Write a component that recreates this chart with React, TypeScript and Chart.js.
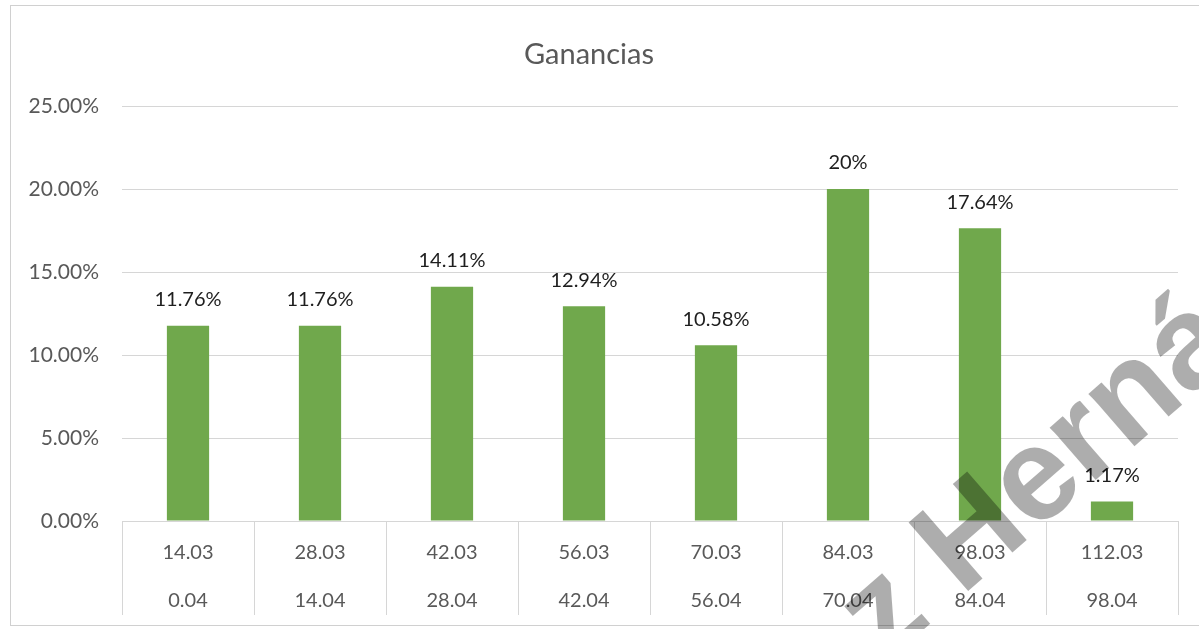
import React, { useEffect, useRef } from 'react';
import { Chart, registerables } from 'chart.js';

Chart.register(...registerables);

// ---- Data ----
const categoriesTop = ['14.03', '28.03', '42.03', '56.03', '70.03', '84.03', '98.03', '112.03'];
const categoriesBottom = ['0.04', '14.04', '28.04', '42.04', '56.04', '70.04', '84.04', '98.04'];
const gananciasValues = [11.76, 11.76, 14.11, 12.94, 10.58, 20, 17.64, 1.17];
const yMin = 0;
const yMax = 25;
const yStep = 5;
const chartTitle = 'Ganancias';
const watermarkText = 'z Hernán';

const FONT = 'Lato, "Open Sans", "DejaVu Sans", sans-serif';
const BAR_COLOR = '#70A84C';
const GRID_COLOR = '#D6D6D6';
const AXIS_TEXT = '#595959';

const formatLabel = (v: number) => `${v}%`;

const dataLabelPlugin = {
  id: 'dataLabels',
  afterDatasetsDraw(chart: any) {
    const ctx = chart.ctx;
    const meta = chart.getDatasetMeta(0);
    ctx.save();
    ctx.font = `20px ${FONT}`;
    ctx.fillStyle = '#1e1e1e';
    ctx.textAlign = 'center';
    ctx.textBaseline = 'middle';
    meta.data.forEach((el: any, i: number) => {
      ctx.fillText(formatLabel(gananciasValues[i]), el.x, el.y - 26);
    });
    ctx.restore();
  },
};

const decorPlugin = {
  id: 'decor',
  afterDraw(chart: any) {
    const ctx = chart.ctx;
    ctx.save();
    // outer chart border
    ctx.strokeStyle = '#D0D0D0';
    ctx.lineWidth = 1;
    ctx.strokeRect(10.5, 5.5, chart.width, 620);
    // scan watermark
    ctx.translate(884, 664);
    ctx.rotate((-41 * Math.PI) / 180);
    ctx.font = 'bold 132px "Liberation Sans", Arial, sans-serif';
    ctx.textBaseline = 'alphabetic';
    ctx.textAlign = 'left';
    ctx.fillStyle = 'rgba(0,0,0,0.32)';
    ctx.fillText(watermarkText, 0, 0);
    ctx.restore();
  },
};

export default function App() {
  const canvasRef = useRef<HTMLCanvasElement | null>(null);

  useEffect(() => {
    document.body.style.margin = '0';
    const canvas = canvasRef.current;
    if (!canvas) return;
    const labels = categoriesTop.map((t, i) => [t, categoriesBottom[i]]);
    const chart = new Chart(canvas, {
      type: 'bar',
      data: {
        labels,
        datasets: [
          {
            label: chartTitle,
            data: gananciasValues,
            backgroundColor: BAR_COLOR,
            borderWidth: 0,
            barPercentage: 0.32,
            categoryPercentage: 1,
          },
        ],
      },
      options: {
        responsive: false,
        animation: false,
        layout: { padding: { top: 0, right: 21, bottom: 0, left: 0 } },
        plugins: {
          legend: { display: false },
          tooltip: { enabled: false },
          title: {
            display: true,
            text: chartTitle,
            color: AXIS_TEXT,
            font: { family: FONT, size: 29, weight: 'normal', lineHeight: 1.2 },
            padding: { top: 37.6, bottom: 33.6 },
          },
        },
        scales: {
          x: {
            offset: true,
            grid: {
              display: true,
              drawOnChartArea: false,
              drawTicks: true,
              tickLength: 94,
              color: GRID_COLOR,
              offset: true,
            },
            border: { display: true, color: GRID_COLOR },
            ticks: {
              padding: -86,
              color: AXIS_TEXT,
              font: { family: FONT, size: 20, lineHeight: 2.375 },
              maxRotation: 0,
              autoSkip: false,
            },
            afterFit: (s: any) => {
              s.height = 108;
            },
          },
          y: {
            min: yMin,
            max: yMax,
            grid: { color: GRID_COLOR, drawTicks: false },
            border: { display: false },
            ticks: {
              stepSize: yStep,
              padding: 23,
              color: AXIS_TEXT,
              font: { family: FONT, size: 21 },
              callback: (v: any) => `${Number(v).toFixed(2)}%`,
            },
            afterFit: (s: any) => {
              s.width = 122;
            },
          },
        },
      },
      plugins: [dataLabelPlugin, decorPlugin],
    });
    return () => chart.destroy();
  }, []);

  return (
    <div style={{ width: 1199, height: 629, background: '#ffffff' }}>
      <canvas ref={canvasRef} width={1199} height={629} style={{ display: 'block' }} />
    </div>
  );
}
